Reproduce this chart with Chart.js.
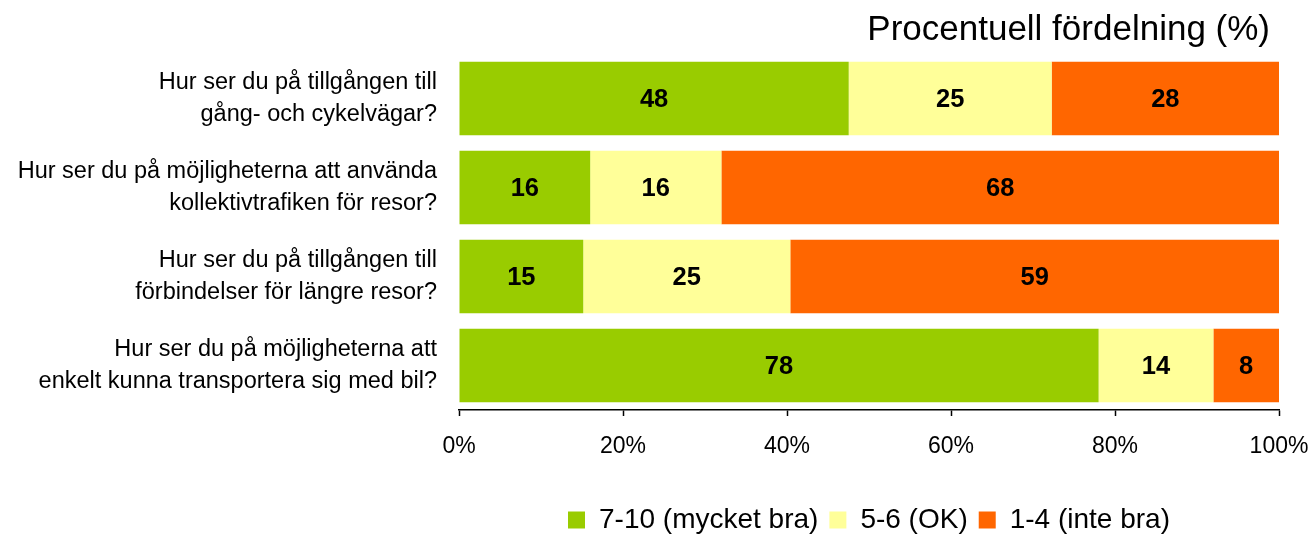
<!DOCTYPE html>
<html>
<head>
<meta charset="utf-8">
<script src="https://cdn.jsdelivr.net/npm/chart.js@4/dist/chart.umd.min.js"></script>
<style>
  html, body { margin: 0; padding: 0; background: #ffffff; }
  #wrap { width: 1313px; height: 534px; position: relative; }
</style>
</head>
<body>
<div id="wrap"><canvas id="c"></canvas></div>
<script>
// ---- Data ----
const categories = [
  ["Hur ser du på tillgången till", "gång- och cykelvägar?"],
  ["Hur ser du på möjligheterna att använda", "kollektivtrafiken för resor?"],
  ["Hur ser du på tillgången till", "förbindelser för längre resor?"],
  ["Hur ser du på möjligheterna att", "enkelt kunna transportera sig med bil?"]
];
const seriesNames = ["7-10 (mycket bra)", "5-6 (OK)", "1-4 (inte bra)"];
const good = [48, 16, 15, 78];
const ok = [25, 16, 25, 14];
const bad = [28, 68, 59, 8];
const xTicks = [0, 20, 40, 60, 80, 100];
const chartTitle = "Procentuell fördelning (%)";

// normalise each row to 100 %
const rows = [good, ok, bad];
const totals = categories.map((_, i) => rows.reduce((s, r) => s + r[i], 0));
const pct = r => r.map((v, i) => v / totals[i] * 100);

const colors = ["#99CC00", "#FFFF99", "#FF6600"];
const FONT = '"Liberation Sans", Arial, Helvetica, sans-serif';

const labelPlugin = {
  id: 'barLabels',
  afterDatasetsDraw(chart) {
    const ctx = chart.ctx;
    ctx.save();
    ctx.font = 'bold 25.5px ' + FONT;
    ctx.fillStyle = '#000';
    ctx.textAlign = 'center';
    ctx.textBaseline = 'middle';
    chart.data.datasets.forEach((ds, di) => {
      const meta = chart.getDatasetMeta(di);
      meta.data.forEach((el, i) => {
        const cx = (el.x + el.base) / 2;
        ctx.fillText(String(ds.raw[i]), cx, el.y + 1);
      });
    });
    ctx.restore();
  }
};

const titlePlugin = {
  id: 'rightTitle',
  afterDraw(chart) {
    const ctx = chart.ctx;
    ctx.save();
    ctx.font = '35px ' + FONT;
    ctx.fillStyle = '#000';
    ctx.textAlign = 'right';
    ctx.textBaseline = 'alphabetic';
    ctx.fillText(chartTitle, chart.chartArea.right - 9, 40);
    ctx.restore();
  }
};

new Chart(document.getElementById('c'), {
  type: 'bar',
  data: {
    labels: categories,
    datasets: rows.map((r, k) => ({
      label: seriesNames[k],
      data: pct(r),
      raw: r,
      backgroundColor: colors[k],
      borderWidth: 0,
      barPercentage: 0.9,
      categoryPercentage: 0.92
    }))
  },
  options: {
    indexAxis: 'y',
    responsive: true,
    maintainAspectRatio: false,
    animation: false,
    layout: { padding: { left: 0, right: 34, top: 54, bottom: -10 } },
    scales: {
      x: {
        stacked: true,
        min: 0, max: 100,
        afterBuildTicks(scale) { scale.ticks = xTicks.map(v => ({ value: v })); },
        afterFit(scale) { scale.height = 85; scale.paddingRight = 0; scale.paddingLeft = 0; },
        grid: { display: true, drawOnChartArea: false, drawTicks: true, tickLength: 6, color: '#000', tickWidth: 1.5 },
        border: { display: true, color: '#000', width: 1.5 },
        ticks: {
          color: '#000',
          padding: 17,
          font: { family: FONT, size: 23 },
          callback: v => v + '%',
          maxRotation: 0
        }
      },
      y: {
        stacked: true,
        afterFit(scale) { scale.width = 459; scale.paddingTop = 0; scale.paddingBottom = 0; },
        grid: { display: false },
        border: { display: false },
        ticks: {
          color: '#000',
          padding: 14,
          font: { family: FONT, size: 23.5, lineHeight: 1.4 }
        }
      }
    },
    plugins: {
      title: { display: false },
      legend: {
        position: 'bottom',
        fullSize: false,
        labels: {
          color: '#000',
          boxWidth: 17,
          boxHeight: 17,
          padding: 11,
          font: { family: FONT, size: 28 }
        }
      },
      tooltip: { enabled: false }
    }
  },
  plugins: [labelPlugin, titlePlugin]
});
</script>
</body>
</html>
